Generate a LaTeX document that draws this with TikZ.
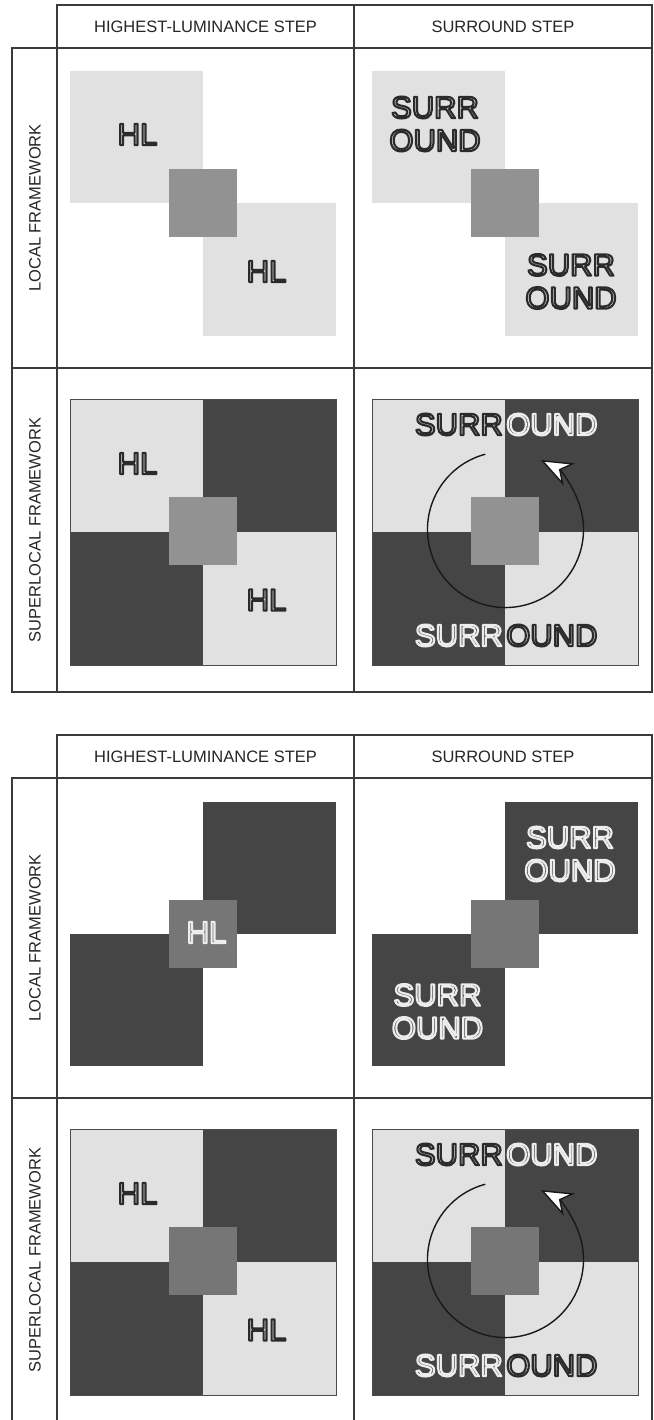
\documentclass[tikz,border=0pt]{standalone}
\usepackage{fontspec}
\setmainfont{Liberation Sans}
\usetikzlibrary{arrows.meta}

\definecolor{paleboard}{HTML}{E1E1E1}
\definecolor{darkboard}{HTML}{454545}
\definecolor{midboard}{HTML}{929292}
\definecolor{midboardb}{HTML}{767676}
\definecolor{rimdark}{HTML}{2B2B2B}
\definecolor{rimpale}{HTML}{EDEDED}
\definecolor{rulegray}{HTML}{3A3A3A}
\def\rimdarkRG{0.169 0.169 0.169 RG}
\def\rimpaleRG{0.929 0.929 0.929 RG}

% hollow lettering: glyphs filled with #4 and stroked with #5
% [#1 anchor] {#2 name} {#3 position} {#4 fill} {#5 rim} {#6 text}
\newcommand{\rimtext}[6][center]{%
  \node[bigtext, text=#4, anchor=#1] (#2) at (#3)
    {\special{pdf:literal direct \csname #5RG\endcsname\space 2.1 w 1 j 2 Tr}#6\special{pdf:literal direct 0 Tr}};
}

\begin{document}
\begin{tikzpicture}[x=1pt, y=-1pt,
    rule line/.style={draw=rulegray, line width=1.2pt},
    head text/.style={font=\fontsize{16.5}{18}\selectfont, text=black!85, inner sep=0pt},
    side text/.style={head text, rotate=90},
    bigtext/.style={font=\fontsize{31}{33}\selectfont, inner sep=0pt, align=center},
    board edge/.style={draw=black!70, line width=0.6pt},
    turn/.style={draw=black!90, line width=1.4pt,
        -{Stealth[length=32pt, width=25pt, inset=10pt, fill=white]}}]

\fill[white] (0,0) rectangle (653,1420);
\useasboundingbox (0,0) rectangle (653,1420);

% frames and headings of both tables
\foreach \dy in {0,730} {
    \draw[rule line] (57,\dy+5) rectangle (652,\dy+48);
    \draw[rule line] (12,\dy+48) rectangle (652,\dy+692);
    \draw[rule line] (57,\dy+48) -- (57,\dy+692);
    \draw[rule line] (354,\dy+5) -- (354,\dy+692);
    \draw[rule line] (12,\dy+368) -- (652,\dy+368);
    \node[head text] (hlhead\dy) at (205.5,\dy+26.5) {HIGHEST-LUMINANCE STEP};
    \node[head text] (srhead\dy) at (503,\dy+26.5) {SURROUND STEP};
    \node[side text] (local\dy) at (35,\dy+208) {LOCAL FRAMEWORK};
    \node[side text] (superlocal\dy) at (35,\dy+530) {SUPERLOCAL FRAMEWORK};
}

% checkerboards of the superlocal rows
\foreach \dy/\core in {0/midboard,730/midboardb} {
    \foreach \x in {70,372} {
        \fill[paleboard] (\x,\dy+399) rectangle (\x+133,\dy+532);
        \fill[darkboard] (\x+133,\dy+399) rectangle (\x+266,\dy+532);
        \fill[darkboard] (\x,\dy+532) rectangle (\x+133,\dy+665);
        \fill[paleboard] (\x+133,\dy+532) rectangle (\x+266,\dy+665);
        \draw[board edge] (\x,\dy+399) rectangle (\x+266,\dy+665);
        \fill[\core] (\x+99,\dy+497) rectangle (\x+167,\dy+565);
    }
}

% first table, local framework
\fill[paleboard] (70,71) rectangle (203,203);
\fill[paleboard] (203,203) rectangle (336,336);
\fill[midboard] (169,169) rectangle (237,237);
\fill[paleboard] (372,71) rectangle (505,203);
\fill[paleboard] (505,203) rectangle (638,336);
\fill[midboard] (471,169) rectangle (539,237);
\rimtext{hlA}{137.5,134.5}{paleboard}{rimdark}{HL}
\rimtext{hlB}{266.5,271.5}{paleboard}{rimdark}{HL}
\rimtext{srA}{435,124}{paleboard}{rimdark}{SURR\\OUND}
\rimtext{srB}{571,281.5}{paleboard}{rimdark}{SURR\\OUND}

% first table, superlocal framework
\rimtext{hlC}{137.5,463.5}{paleboard}{rimdark}{HL}
\rimtext{hlD}{266.5,600}{paleboard}{rimdark}{HL}
\rimtext[east]{srC}{503,424.5}{paleboard}{rimdark}{SURR}
\rimtext[west]{srD}{506,424.5}{darkboard}{rimpale}{OUND}
\rimtext[east]{srE}{503,635.5}{darkboard}{rimpale}{SURR}
\rimtext[west]{srF}{506,635.5}{paleboard}{rimdark}{OUND}
\draw[turn] (485.3,454.2) arc[start angle=105, end angle=423, radius=78pt];

\begin{scope}[shift={(0,730)}]
    % second table, local framework
    \fill[darkboard] (203,72) rectangle (336,204);
    \fill[darkboard] (70,204) rectangle (203,336);
    \fill[midboardb] (169,170) rectangle (237,238);
    \fill[darkboard] (505,72) rectangle (638,204);
    \fill[darkboard] (372,204) rectangle (505,336);
    \fill[midboardb] (471,170) rectangle (539,238);
    \rimtext{hlE}{206.5,202.5}{midboardb}{rimpale}{HL}
    \rimtext{srG}{570,124}{darkboard}{rimpale}{SURR\\OUND}
    \rimtext{srH}{437.5,281.5}{darkboard}{rimpale}{SURR\\OUND}

    % second table, superlocal framework
    \rimtext{hlF}{137.5,463.5}{paleboard}{rimdark}{HL}
    \rimtext{hlG}{266.5,600}{paleboard}{rimdark}{HL}
    \rimtext[east]{srI}{503,424.5}{paleboard}{rimdark}{SURR}
    \rimtext[west]{srJ}{506,424.5}{darkboard}{rimpale}{OUND}
    \rimtext[east]{srK}{503,635.5}{darkboard}{rimpale}{SURR}
    \rimtext[west]{srL}{506,635.5}{paleboard}{rimdark}{OUND}
    \draw[turn] (485.3,454.2) arc[start angle=105, end angle=423, radius=78pt];
\end{scope}
\end{tikzpicture}
\end{document}
